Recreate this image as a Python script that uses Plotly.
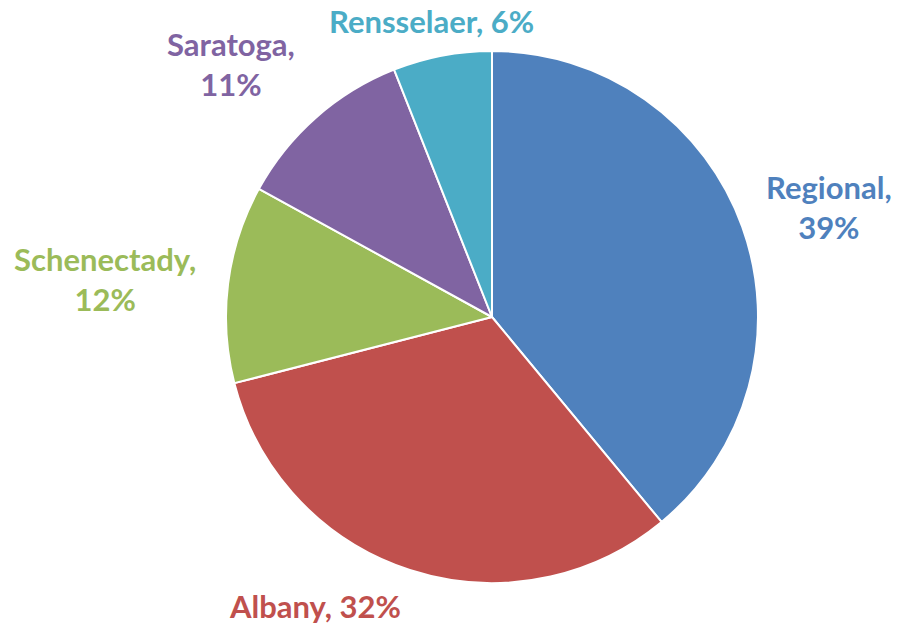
import plotly.graph_objects as go

W, H = 901, 629

categories = ["Regional", "Albany", "Schenectady", "Saratoga", "Rensselaer"]
values = [39, 32, 12, 11, 6]
colors = ["#4F81BD", "#C0504D", "#9BBB59", "#8064A2", "#4BACC6"]

# label layout: (center x px, center y px, line break after comma?)
label_pos = [(829, 207, True), (315, 606, False), (105, 279, True), (231, 64, True), (431, 21, False)]

cx, cy, r = 492, 317, 266

fig = go.Figure(go.Pie(
    labels=categories,
    values=values,
    sort=False,
    direction="clockwise",
    rotation=0,
    marker=dict(colors=colors, line=dict(color="white", width=2)),
    textinfo="none",
    hoverinfo="label+percent",
    domain=dict(x=[(cx - r) / W, (cx + r) / W], y=[1 - (cy + r) / H, 1 - (cy - r) / H]),
    showlegend=False,
))

total = sum(values)
annotations = []
for cat, v, col, (lx, ly, br) in zip(categories, values, colors, label_pos):
    pct = round(100 * v / total)
    sep = ",<br>" if br else ", "
    annotations.append(dict(
        x=lx / W, y=1 - ly / H, xref="paper", yref="paper",
        text=f"<b>{cat}{sep}{pct}%</b>", showarrow=False,
        font=dict(family="Lato, Carlito, Calibri, sans-serif", size=31, color=col),
        align="center", xanchor="center", yanchor="middle",
    ))

fig.update_layout(
    width=W, height=H,
    margin=dict(l=0, r=0, t=0, b=0),
    paper_bgcolor="white", plot_bgcolor="white",
    annotations=annotations,
)

fig.write_html("out.html")
